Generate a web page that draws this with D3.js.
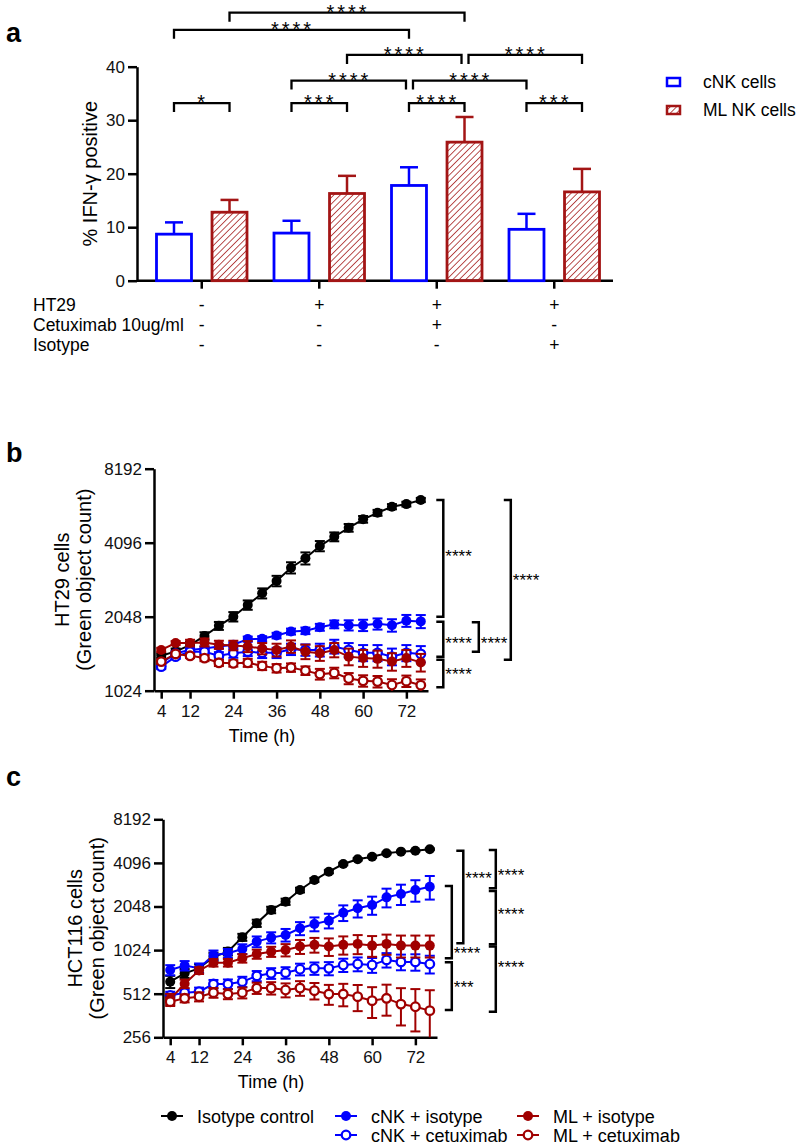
<!DOCTYPE html>
<html>
<head>
<meta charset="utf-8">
<script src="https://cdn.jsdelivr.net/npm/d3@7"></script>
<style>
  body { margin: 0; background: #fff; }
</style>
</head>
<body>
<script>
const FONT = '"Liberation Sans", Arial, Helvetica, sans-serif';
const blue = '#0000ff';
const red = '#a31515';
const darkRed = '#a00000';

// ---- panel a data
const groups = ['g1', 'g2', 'g3', 'g4'];
const series = ['cNK cells', 'ML NK cells'];
const cnkMean = [8.7, 8.9, 17.8, 9.6];
const cnkErr = [2.2, 2.3, 3.4, 2.9];
const mlMean = [12.8, 16.3, 25.9, 16.6];
const mlErr = [2.3, 3.3, 4.7, 4.3];
const yTicksA = [0, 10, 20, 30, 40];
const rowLabels = ['HT29', 'Cetuximab 10ug/ml', 'Isotype'];
const ht29Signs = ['-', '+', '+', '+'];
const cetuxSigns = ['-', '-', '+', '-'];
const isoSigns = ['-', '-', '-', '+'];
// comparisons: [group, series] -> [group, series], bracket height in % units
const compsA = [
  {from: [0, 1], to: [2, 1], h: 50.1, label: '****'},
  {from: [0, 0], to: [2, 0], h: 46.9, label: '****'},
  {from: [1, 1], to: [2, 1], h: 42.2, label: '****'},
  {from: [2, 1], to: [3, 1], h: 42.2, label: '****'},
  {from: [1, 0], to: [2, 0], h: 37.4, label: '****'},
  {from: [2, 0], to: [3, 0], h: 37.4, label: '****'},
  {from: [0, 0], to: [0, 1], h: 33.2, label: '*'},
  {from: [1, 0], to: [1, 1], h: 33.2, label: '***'},
  {from: [2, 0], to: [2, 1], h: 33.2, label: '****'},
  {from: [3, 0], to: [3, 1], h: 33.2, label: '***'}
];

// ---- panels b, c data
const times = [4, 8, 12, 16, 20, 24, 28, 32, 36, 40, 44, 48, 52, 56, 60, 64, 68, 72, 76];
const xTicks = [4, 12, 24, 36, 48, 60, 72];
const seriesNames = ['Isotype control', 'cNK + isotype', 'cNK + cetuximab', 'ML + isotype', 'ML + cetuximab'];

const ht29Iso = [1420, 1480, 1570, 1710, 1880, 2048, 2285, 2550, 2863, 3240, 3540, 3970, 4330, 4710, 5100, 5420, 5740, 5880, 6110];
const ht29IsoErr = [30, 40, 50, 60, 70, 90, 100, 120, 140, 170, 200, 190, 180, 170, 160, 150, 140, 130, 120];
const ht29CnkIso = [1323, 1454, 1500, 1520, 1550, 1575, 1660, 1665, 1716, 1782, 1795, 1855, 1907, 1890, 1890, 1915, 1890, 1972, 1960];
const ht29CnkIsoErr = [30, 30, 30, 30, 30, 35, 40, 40, 45, 50, 55, 60, 70, 90, 100, 100, 110, 110, 120];
const ht29CnkCet = [1283, 1409, 1476, 1476, 1420, 1454, 1476, 1460, 1460, 1510, 1500, 1500, 1550, 1500, 1460, 1460, 1409, 1460, 1445];
const ht29CnkCetErr = [30, 30, 40, 40, 50, 60, 60, 70, 70, 80, 80, 90, 100, 100, 110, 110, 110, 110, 110];
const ht29MlIso = [1500, 1600, 1600, 1610, 1575, 1565, 1550, 1520, 1500, 1550, 1476, 1454, 1500, 1409, 1390, 1380, 1345, 1390, 1335];
const ht29MlIsoErr = [30, 30, 50, 60, 60, 70, 80, 80, 90, 90, 100, 100, 100, 110, 110, 110, 110, 110, 110];
const ht29MlCet = [1345, 1445, 1420, 1390, 1330, 1323, 1330, 1292, 1264, 1272, 1236, 1196, 1210, 1148, 1123, 1115, 1080, 1120, 1078];
const ht29MlCetErr = [30, 30, 30, 40, 40, 40, 50, 50, 50, 50, 50, 60, 60, 60, 60, 60, 60, 60, 60];

const hctIso = [620, 708, 766, 921, 1000, 1256, 1570, 1940, 2210, 2660, 3120, 3560, 4024, 4340, 4520, 4770, 4900, 4970, 5090];
const hctIsoErr = [60, 50, 50, 60, 60, 70, 90, 100, 110, 100, 100, 90, 80, 80, 70, 70, 60, 60, 60];
const hctCnkIso = [746, 800, 768, 947, 973, 1043, 1172, 1249, 1303, 1448, 1551, 1635, 1855, 1989, 2095, 2369, 2497, 2660, 2806];
const hctCnkIsoErr = [60, 60, 60, 70, 70, 80, 100, 110, 130, 150, 170, 190, 230, 270, 300, 350, 400, 450, 520];
const hctCnkCet = [498, 520, 529, 597, 597, 620, 679, 708, 715, 755, 766, 766, 808, 821, 808, 876, 848, 848, 821];
const hctCnkCetErr = [30, 30, 35, 40, 45, 50, 55, 60, 65, 70, 75, 80, 85, 90, 95, 100, 105, 110, 115];
const hctMlIso = [470, 600, 740, 838, 838, 899, 962, 999, 1026, 1083, 1113, 1083, 1113, 1130, 1100, 1130, 1100, 1100, 1100];
const hctMlIsoErr = [40, 40, 40, 50, 50, 60, 70, 80, 100, 120, 130, 150, 160, 170, 180, 180, 190, 190, 190];
const hctMlCet = [451, 476, 488, 520, 509, 520, 560, 560, 543, 560, 537, 509, 509, 488, 458, 476, 434, 416, 391];
const hctMlCetErr = [30, 30, 35, 40, 40, 45, 50, 55, 60, 65, 70, 80, 90, 100, 110, 115, 125, 135, 150];

// brackets in count units (top, bottom, where the stars sit)
const ht29Brackets = [
  {top: 6110, bottom: 2048, mid: 3729, level: 0, label: '****'},
  {top: 1955, bottom: 1409, mid: 1660, level: 0, label: '****'},
  {top: 1367, bottom: 1057, mid: 1235, level: 0, label: '****'},
  {top: 1945, bottom: 1476, mid: 1660, level: 1, label: '****'},
  {top: 6110, bottom: 1367, mid: 2978, level: 2, label: '****'}
];
const hctBrackets = [
  {top: 4970, bottom: 1143, mid: 3380, level: 1, label: '****'},
  {top: 2837, bottom: 899, mid: 1037, level: 0, label: '****'},
  {top: 843, bottom: 395, mid: 604, level: 0, label: '***'},
  {top: 5030, bottom: 2734, mid: 3561, level: 2, label: '****'},
  {top: 2621, bottom: 1125, mid: 1908, level: 2, label: '****'},
  {top: 1083, bottom: 384, mid: 831, level: 2, label: '****'}
];

const svg = d3.select('body').append('svg')
  .attr('width', 800)
  .attr('height', 1145)
  .style('font-family', FONT);

const defs = svg.append('defs');
defs.append('pattern')
  .attr('id', 'hatch')
  .attr('patternUnits', 'userSpaceOnUse')
  .attr('width', 4.5).attr('height', 4.5)
  .attr('patternTransform', 'rotate(45)')
  .append('line')
  .attr('x1', 0).attr('y1', 0).attr('x2', 0).attr('y2', 4.5)
  .attr('stroke', red).attr('stroke-width', 1.5);

function styleAxis(g) {
  g.attr('font-family', FONT).attr('font-size', 17);
  g.selectAll('path, line').attr('stroke', '#000').attr('stroke-width', 2.5);
  g.selectAll('text').attr('fill', '#111');
}

function panelLabel(txt, x, y) {
  svg.append('text').attr('x', x).attr('y', y)
    .attr('font-size', 27).attr('font-weight', 'bold').text(txt);
}

// =================== panel a
panelLabel('a', 6, 42);

const yA = d3.scaleLinear().domain([0, 40]).range([280.7, 66.7]);
const xA = d3.scaleBand().domain(groups).range([143, 613]);
const xSub = d3.scaleBand().domain(series).range([13.5, 104]).paddingInner(0.37);
const bw = xSub.bandwidth();
const barCx = (gi, si) => xA(groups[gi]) + xSub(series[si]) + bw / 2;

const gA = svg.append('g');
gA.append('g')
  .attr('transform', `translate(${xA.range()[0] - 6},0)`)
  .call(d3.axisLeft(yA).tickValues(yTicksA).tickSize(9).tickSizeOuter(0))
  .call(styleAxis);
const xAxisA = gA.append('g')
  .attr('transform', `translate(0,${yA(0)})`)
  .call(d3.axisBottom(xA).tickSize(8).tickSizeOuter(0).tickFormat(''))
  .call(styleAxis);
xAxisA.select('.domain').attr('d', `M${xA.range()[0] - 6},0H${xA.range()[1]}`);

const barData = groups.flatMap((g, i) => [
  {g, s: series[0], si: 0, v: cnkMean[i], e: cnkErr[i]},
  {g, s: series[1], si: 1, v: mlMean[i], e: mlErr[i]}
]);
const barColor = d => d.si === 0 ? blue : red;

gA.selectAll('.err').data(barData).join('g').attr('class', 'err')
  .each(function(d) {
    const cx = xA(d.g) + xSub(d.s) + bw / 2;
    const g = d3.select(this).attr('stroke', barColor(d)).attr('stroke-width', 2.5);
    g.append('line').attr('x1', cx).attr('x2', cx).attr('y1', yA(d.v)).attr('y2', yA(d.v + d.e));
    g.append('line').attr('x1', cx - 9).attr('x2', cx + 9).attr('y1', yA(d.v + d.e)).attr('y2', yA(d.v + d.e));
  });

gA.selectAll('.bar').data(barData).join('rect').attr('class', 'bar')
  .attr('x', d => xA(d.g) + xSub(d.s))
  .attr('y', d => yA(d.v))
  .attr('width', bw)
  .attr('height', d => yA(0) - yA(d.v))
  .attr('fill', d => d.si === 0 ? '#fff' : 'url(#hatch)')
  .attr('stroke', barColor)
  .attr('stroke-width', 2.8);

// y title
gA.append('text')
  .attr('transform', `translate(97,${(yA(0) + yA(40)) / 2}) rotate(-90)`)
  .attr('text-anchor', 'middle').attr('font-size', 20)
  .text('% IFN-γ positive');

// condition rows
const rowSigns = [ht29Signs, cetuxSigns, isoSigns];
const rowY = [311, 331, 351];
rowLabels.forEach((lab, r) => {
  gA.append('text').attr('x', 33).attr('y', rowY[r]).attr('font-size', 17.5).text(lab);
  gA.selectAll(null).data(rowSigns[r]).join('text')
    .attr('x', (d, i) => xA(groups[i]) + xA.bandwidth() / 2)
    .attr('y', rowY[r])
    .attr('text-anchor', 'middle').attr('font-size', 17.5)
    .text(d => d);
});

// significance brackets
compsA.forEach(c => {
  let x1 = barCx(...c.from), x2 = barCx(...c.to);
  if (compsA.some(o => o !== c && o.h === c.h && o.from.join() === c.to.join())) x2 -= 3;
  if (compsA.some(o => o !== c && o.h === c.h && o.to.join() === c.from.join())) x1 += 4;
  const y = yA(c.h);
  gA.append('path')
    .attr('d', `M${x1},${y + 9}V${y}H${x2}V${y + 9}`)
    .attr('fill', 'none').attr('stroke', '#000').attr('stroke-width', 2.3);
  gA.append('text')
    .attr('x', (x1 + x2) / 2 + 1).attr('y', y + 6)
    .attr('text-anchor', 'middle').attr('font-size', 20).attr('letter-spacing', 3)
    .text(c.label);
});

// legend a
series.forEach((s, i) => {
  const ly = 82 + i * 28;
  svg.append('rect').attr('x', 667).attr('y', ly - 4).attr('width', 13).attr('height', 8)
    .attr('fill', i === 0 ? '#fff' : 'url(#hatch)')
    .attr('stroke', i === 0 ? blue : red).attr('stroke-width', 2.5);
  svg.append('text').attr('x', 703).attr('y', ly + 6).attr('font-size', 17.5).text(s);
});

// =================== panels b, c
const seriesStyle = [
  {color: '#000', filled: true},
  {color: blue, filled: true},
  {color: blue, filled: false},
  {color: darkRed, filled: true},
  {color: darkRed, filled: false}
];

function timecourse(o) {
  const {x, y} = o;
  const g = svg.append('g');
  g.append('g').attr('transform', `translate(${x.range()[0]},0)`)
    .call(d3.axisLeft(y).tickValues(o.yTicks).tickFormat(d3.format('d')).tickSize(9).tickSizeOuter(0))
    .call(styleAxis);
  g.append('g').attr('transform', `translate(0,${y.range()[0]})`)
    .call(d3.axisBottom(x).tickValues(xTicks).tickSize(8).tickPadding(6).tickSizeOuter(0))
    .call(styleAxis);

  g.append('text').attr('x', o.timeX).attr('y', y.range()[0] + 51)
    .attr('text-anchor', 'middle').attr('font-size', 18).text('Time (h)');
  o.yTitle.forEach((t, i) => {
    g.append('text')
      .attr('transform', `translate(${o.titleX[i]},${(y.range()[0] + y.range()[1]) / 2}) rotate(-90)`)
      .attr('text-anchor', 'middle').attr('font-size', 20).text(t);
  });

  const lo = y.domain()[0];
  const line = d3.line().x(d => x(d.t)).y(d => y(d.v));
  o.order.forEach(si => {
    const st = seriesStyle[si];
    const pts = times.map((t, i) => ({t, v: o.means[si][i], e: o.errs[si][i]}));
    const sg = g.append('g');
    sg.append('path').datum(pts).attr('d', line)
      .attr('fill', 'none').attr('stroke', st.color).attr('stroke-width', 2);
    const eb = sg.selectAll('.eb').data(pts).join('g').attr('stroke', st.color).attr('stroke-width', 2);
    eb.append('line')
      .attr('x1', d => x(d.t)).attr('x2', d => x(d.t))
      .attr('y1', d => y(d.v + d.e)).attr('y2', d => y(Math.max(lo, d.v - d.e)));
    eb.append('line')
      .attr('x1', d => x(d.t) - 5).attr('x2', d => x(d.t) + 5)
      .attr('y1', d => y(d.v + d.e)).attr('y2', d => y(d.v + d.e));
    eb.filter(d => d.v - d.e > lo).append('line')
      .attr('x1', d => x(d.t) - 5).attr('x2', d => x(d.t) + 5)
      .attr('y1', d => y(d.v - d.e)).attr('y2', d => y(d.v - d.e));
    sg.selectAll('circle').data(pts).join('circle')
      .attr('cx', d => x(d.t)).attr('cy', d => y(d.v))
      .attr('r', st.filled ? 5 : 4.3)
      .attr('fill', st.filled ? st.color : '#fff')
      .attr('stroke', st.color).attr('stroke-width', st.filled ? 0 : 2.3);
  });

  const xEnd = x(times[times.length - 1]);
  o.brackets.forEach(b => {
    const bx = xEnd + o.levels[b.level];
    g.append('path')
      .attr('d', `M${bx - 7},${y(b.top)}H${bx}V${y(b.bottom)}H${bx - 7}`)
      .attr('fill', 'none').attr('stroke', '#000').attr('stroke-width', 2.5);
    g.append('text').attr('x', bx + 2).attr('y', y(b.mid) + 9.5)
      .attr('font-size', 17).text(b.label);
  });
}

panelLabel('b', 6, 462);
timecourse({
  x: d3.scaleLinear().domain([2, 78]).range([154, 428]),
  y: d3.scaleLog().base(2).domain([1024, 8192]).range([690.7, 468.7]),
  yTicks: [1024, 2048, 4096, 8192],
  yTitle: ['HT29 cells', '(Green object count)'],
  titleX: [69, 91],
  timeX: 262,
  means: [ht29Iso, ht29CnkIso, ht29CnkCet, ht29MlIso, ht29MlCet],
  errs: [ht29IsoErr, ht29CnkIsoErr, ht29CnkCetErr, ht29MlIsoErr, ht29MlCetErr],
  order: [0, 1, 2, 3, 4],
  brackets: ht29Brackets,
  levels: [22.5, 58, 90]
});

panelLabel('c', 6, 786);
timecourse({
  x: d3.scaleLinear().domain([2, 78]).range([163, 437]),
  y: d3.scaleLog().base(2).domain([256, 8192]).range([1037.3, 819.3]),
  yTicks: [256, 512, 1024, 2048, 4096, 8192],
  yTitle: ['HCT116 cells', '(Green object count)'],
  titleX: [82, 104],
  timeX: 271,
  means: [hctIso, hctCnkIso, hctCnkCet, hctMlIso, hctMlCet],
  errs: [hctIsoErr, hctCnkIsoErr, hctCnkCetErr, hctMlIsoErr, hctMlCetErr],
  order: [0, 1, 2, 3, 4],
  brackets: hctBrackets,
  levels: [22, 33.5, 66]
});

// bottom legend
const legCol = [0, 1, 1, 2, 2];
const legRow = [0, 0, 1, 0, 1];
const legX = [161, 335, 517];
const legY = [1116, 1135];
seriesNames.forEach((name, i) => {
  const st = seriesStyle[i];
  const lx = legX[legCol[i]], ly = legY[legRow[i]];
  const lg = svg.append('g');
  lg.append('line').attr('x1', lx).attr('x2', lx + 22).attr('y1', ly).attr('y2', ly)
    .attr('stroke', st.color).attr('stroke-width', 2);
  lg.append('circle').attr('cx', lx + 11).attr('cy', ly)
    .attr('r', st.filled ? 5 : 4.3)
    .attr('fill', st.filled ? st.color : '#fff')
    .attr('stroke', st.color).attr('stroke-width', st.filled ? 0 : 2.3);
  lg.append('text').attr('x', lx + 36).attr('y', ly + 6.5).attr('font-size', 18).text(name);
});
</script>
</body>
</html>
